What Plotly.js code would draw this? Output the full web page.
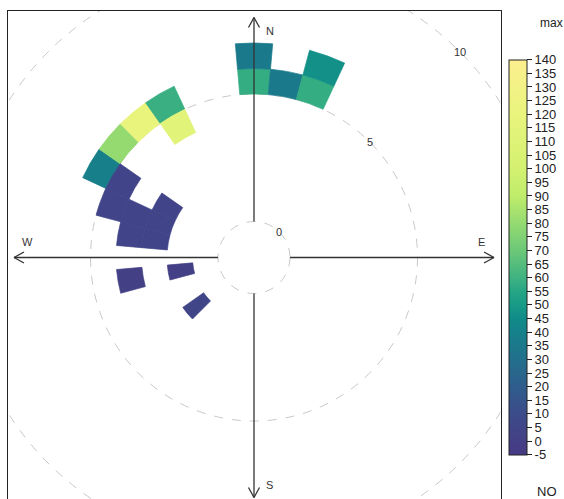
<!DOCTYPE html>
<html><head><meta charset="utf-8">
<script src="https://cdn.plot.ly/plotly-3.0.1.min.js"></script>
<style>html,body{margin:0;padding:0;background:#fff}#chart{width:564px;height:499px}</style>
</head><body><div id="chart"></div>
<script>
// ---- data ----
const windDir      = [0, 0, 10, 20, 20, 300, 310, 320, 330, 330, 280, 290, 300, 280, 290, 290, 300, 260, 260, 230];
const windSpeedBin = [5, 6, 5, 5, 6, 5, 5, 5, 5, 4, 2, 2, 2, 3, 3, 4, 4, 3, 1, 1];
const maxNO        = [58, 36, 36, 58, 47, 39, 80, 120, 59, 113, 4, 4, 4, 4, 4, 4, 4, 1, 1, 5];
const colourTicks  = [-5, 0, 5, 10, 15, 20, 25, 30, 35, 40, 45, 50, 55, 60, 65, 70, 75, 80, 85, 90, 95, 100, 105, 110, 115, 120, 125, 130, 135, 140];
const radialLabels = [0, 5, 10];
const compass      = ['N', 'E', 'S', 'W'];
const statName = 'max';
const pollutant = 'NO';

// ---- layout geometry ----
const W = 564, H = 499;
const cx = 254, cy = 257.5;          // centre in px (from top-left)
const holePx = 36, pxPerUnit = 25.5, rMax = 8;
const Rout = holePx + pxPerUnit * rMax; // 240
const rpx = v => holePx + pxPerUnit * v;
const cmin = colourTicks[0], cmax = colourTicks[colourTicks.length - 1];

const stops = [[-5,'#463a84'],[0,'#443f86'],[10,'#3c4b8a'],[20,'#2f5d8c'],[30,'#226f8c'],[40,'#15818a'],
  [45,'#108b89'],[50,'#179a87'],[55,'#26a585'],[60,'#3fb281'],[70,'#6bc878'],[80,'#94da71'],
  [90,'#bfec6b'],[100,'#d3f171'],[120,'#e9f47d'],[140,'#fcf08e']];
const colorscale = stops.map(s => [(s[0] - cmin) / (cmax - cmin), s[1]]);

const font = 'Liberation Sans, Arial, sans-serif';
const ink = '#333';

const trace = {
  type: 'barpolar',
  theta: windDir,
  base: windSpeedBin,
  r: windSpeedBin.map(() => 1),
  width: windDir.map(() => 10),
  marker: {
    color: maxNO, colorscale: colorscale, cmin: cmin, cmax: cmax,
    line: {width: 0.7, color: maxNO, colorscale: colorscale, cmin: cmin, cmax: cmax},
    showscale: true,
    colorbar: {
      x: 509 / W, xanchor: 'left', xpad: 0,
      y: (H - 257.25) / H, yanchor: 'middle', ypad: 0,
      len: 394.5, lenmode: 'pixels', thickness: 18, thicknessmode: 'pixels',
      outlinewidth: 1, outlinecolor: '#222', borderwidth: 0,
      tickmode: 'array', tickvals: colourTicks, ticktext: colourTicks.map(String),
      ticks: 'outside', ticklen: 5, tickwidth: 1, tickcolor: '#222',
      tickfont: {family: font, size: 13, color: '#222'}
    }
  },
  hoverinfo: 'skip'
};

// axes in pixel units relative to centre
const x0 = 7.5, x1 = 500.5, yTop = 11;
const shapes = [];
// dashed grid circles
radialLabels.forEach(v => {
  const r = rpx(v);
  shapes.push({type: 'circle', xref: 'x', yref: 'y', x0: -r, x1: r, y0: -r, y1: r,
    line: {color: '#c8c8c8', width: 1, dash: 'dash'}, layer: 'below'});
});
// compass axes with arrow heads
const dirs = [[0, 1], [1, 0], [0, -1], [-1, 0]];
dirs.forEach(d => {
  const [ux, uy] = d;
  shapes.push({type: 'line', xref: 'x', yref: 'y', x0: ux * holePx, y0: uy * holePx, x1: ux * Rout, y1: uy * Rout,
    line: {color: ink, width: 1.3}, layer: 'above'});
  const tx = ux * Rout, ty = uy * Rout;
  const px = -uy, py = ux; // perpendicular
  [1, -1].forEach(s => {
    shapes.push({type: 'line', xref: 'x', yref: 'y', x0: tx, y0: ty,
      x1: tx - ux * 10 + s * px * 5.5, y1: ty - uy * 10 + s * py * 5.5,
      line: {color: ink, width: 1.3}, layer: 'above'});
  });
});

const annotations = [];
compass.forEach((lab, i) => {
  const [ux, uy] = dirs[i];
  const ax = ux * 227 + (uy !== 0 ? 15.5 : 0);
  const ay = uy * 227 + (ux !== 0 ? 15.5 : 0);
  annotations.push({xref: 'x', yref: 'y', x: ax, y: ay, text: lab, showarrow: false,
    font: {family: font, size: 11, color: ink}, xanchor: 'center', yanchor: 'middle'});
});
radialLabels.forEach(v => {
  const r = rpx(v) * Math.SQRT1_2;
  annotations.push({xref: 'x', yref: 'y', x: r, y: r, text: String(v), showarrow: false,
    font: {family: font, size: 11, color: ink}, xanchor: 'center', yanchor: 'middle'});
});
annotations.push({xref: 'paper', yref: 'paper', x: 538 / W, y: (H - 23) / H, text: statName, showarrow: false,
  font: {family: font, size: 12, color: '#222'}, xanchor: 'left', yanchor: 'middle'});
annotations.push({xref: 'paper', yref: 'paper', x: 535 / W, y: (H - 491) / H, text: pollutant, showarrow: false,
  font: {family: font, size: 13, color: '#222'}, xanchor: 'left', yanchor: 'middle'});

const layout = {
  width: W, height: H, margin: {l: 0, r: 0, t: 0, b: 0},
  paper_bgcolor: '#fff', plot_bgcolor: 'rgba(0,0,0,0)', showlegend: false,
  xaxis: {domain: [x0 / W, x1 / W], range: [-(cx - x0), x1 - cx], showgrid: false, zeroline: false,
    showticklabels: false, ticks: '', showline: true, side: 'top', linecolor: '#222', linewidth: 1, fixedrange: true},
  yaxis: {domain: [0, (H - yTop) / H], range: [-(H - cy), cy - yTop], showgrid: false, zeroline: false,
    showticklabels: false, ticks: '', showline: true, mirror: true, linecolor: '#222', linewidth: 1, fixedrange: true},
  polar: {
    domain: {x: [(cx - Rout) / W, (cx + Rout) / W], y: [(H - cy - Rout) / H, (H - cy + Rout) / H]},
    hole: holePx / Rout,
    bgcolor: 'rgba(0,0,0,0)',
    radialaxis: {range: [0, rMax], visible: false, showgrid: false},
    angularaxis: {rotation: 90, direction: 'clockwise', visible: false, showgrid: false}
  },
  shapes: shapes,
  annotations: annotations
};

Plotly.newPlot('chart', [trace], layout, {staticPlot: true, displayModeBar: false});
</script>
</body></html>
